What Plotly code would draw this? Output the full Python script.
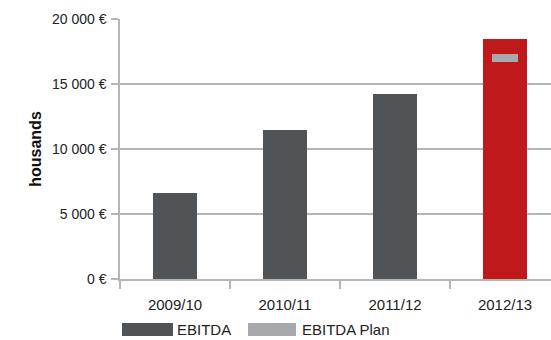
import plotly.graph_objects as go

# Data
seasons = ["2009/10", "2010/11", "2011/12", "2012/13"]
ebitda = [6600, 11500, 14200, 18500]
ebitda_plan = [None, None, None, 17000]
y_ticks = [0, 5000, 10000, 15000, 20000]
y_tick_labels = ["0 €", "5 000 €", "10 000 €", "15 000 €", "20 000 €"]

DARK = "#505456"
RED = "#C0191C"
PLAN = "#A7A9AC"
GRID = "#B5B5B5"
FONT = "Liberation Sans, Arial, Helvetica, sans-serif"

bar_colors = [DARK] * (len(seasons) - 1) + [RED]

fig = go.Figure()
fig.add_trace(go.Bar(
    x=seasons, y=ebitda, name="EBITDA",
    marker=dict(color=bar_colors, line=dict(width=0)),
    width=0.4, showlegend=False,
))

# Plan value drawn as a thin band centred on the planned figure
band = 600
fig.add_trace(go.Bar(
    x=seasons,
    y=[band if v is not None else None for v in ebitda_plan],
    base=[v - band / 2 if v is not None else None for v in ebitda_plan],
    name="EBITDA Plan", marker=dict(color=PLAN, line=dict(width=0)),
    width=0.24, showlegend=False,
))

W, H = 551, 340
L, T, B = 120, 19, 61
plot_w = W - L
plot_h = H - T - B

def px_x(p):
    return (p - L) / plot_w

def px_y(p):
    return (H - B - p) / plot_h

# Legend swatches and labels
legend_items = [("EBITDA", DARK, 122, 173, 175), ("EBITDA Plan", PLAN, 248, 296, 300)]
shapes, annotations = [], []
for label, color, x0, x1, tx in legend_items:
    shapes.append(dict(type="rect", xref="paper", yref="paper",
                       x0=px_x(x0), x1=px_x(x1), y0=px_y(336), y1=px_y(323),
                       fillcolor=color, line=dict(width=0)))
    annotations.append(dict(text=label, xref="paper", yref="paper",
                            x=px_x(tx), y=px_y(329.5), xanchor="left", yanchor="middle",
                            showarrow=False, font=dict(size=15, color="#222", family=FONT)))

fig.update_layout(
    width=W, height=H,
    margin=dict(l=L, r=0, t=T, b=B, pad=0),
    barmode="overlay", bargap=0,
    paper_bgcolor="white", plot_bgcolor="white",
    font=dict(family=FONT, color="#222"),
    shapes=shapes, annotations=annotations,
    xaxis=dict(
        range=[-0.5, -0.5 + plot_w / 110], tickson="boundaries",
        ticks="outside", ticklen=8, tickcolor=GRID, tickwidth=1.5,
        showline=True, linecolor=GRID, linewidth=1.5,
        showgrid=False, tickfont=dict(size=15, color="#222"),
        ticklabelstandoff=11,
    ),
    yaxis=dict(
        range=[0, 20000], tickvals=y_ticks, ticktext=y_tick_labels,
        ticks="outside", ticklen=7, tickcolor=GRID, tickwidth=1.5,
        showline=True, linecolor=GRID, linewidth=1.5,
        gridcolor=GRID, gridwidth=1.5, zeroline=False,
        tickfont=dict(size=14, color="#222"), ticklabelstandoff=2,
        title=dict(text="<b>housands</b>", font=dict(size=16, color="#111"), standoff=6),
    ),
)

fig.write_html("out.html")
